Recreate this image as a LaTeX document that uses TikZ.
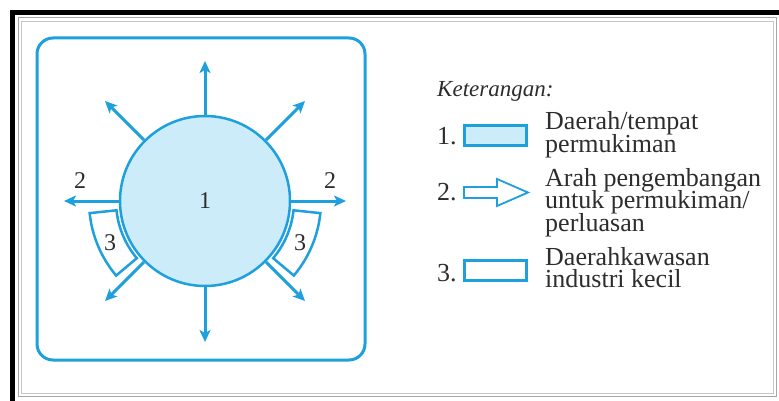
\documentclass[tikz,border=0pt]{standalone}
\usepackage{fontspec}
\setmainfont{Liberation Serif}
\usetikzlibrary{arrows.meta}
\definecolor{sky}{RGB}{30,160,220}
\definecolor{skyfill}{RGB}{205,236,250}
\definecolor{ink}{RGB}{45,45,45}
\newcommand\legtext[1]{\vtop{\baselineskip=22.5pt\lineskiplimit=-60pt\lineskip=0pt #1}}
\begin{document}
\begin{tikzpicture}[x=1pt,y=-1pt,
  arr/.style={draw=sky,line width=3pt,-{Stealth[length=12pt,width=11pt,inset=3pt]}},
  lbl/.style={text=ink,font=\fontsize{24}{24}\selectfont,inner sep=0pt},
  leg/.style={text=ink,font=\fontsize{26}{26}\selectfont,inner sep=0pt,anchor=base west},
  sector/.style={draw=sky,line width=2.5pt,fill=white},
  keybox/.style={draw=sky,line width=3pt,minimum width=62pt,minimum height=20pt,inner sep=0pt},
]
\useasboundingbox (0,0) rectangle (779,401);
\clip (0,0) rectangle (779,401);
\fill[white] (0,0) rectangle (779,401);
% frames
\draw[black,line width=5pt] (12.5,12.5) rectangle (800,420);
\draw[gray!70,line width=1pt] (18,18) rectangle (776,396);
\draw[gray!45,line width=0.8pt] (21,21) rectangle (773,393);
\draw[sky,line width=3pt,rounded corners=16pt] (37,38) rectangle (365,360);

% central settlement
\node[circle,draw=sky,line width=2.5pt,fill=skyfill,minimum size=170pt,lbl] (c) at (205,201) {1};

% arrow end points
\coordinate (eN) at (205,61);
\coordinate (eS) at (205,342);
\coordinate (eW) at (64,201);
\coordinate (eE) at (346,201);
\coordinate (eNE) at (305,101);
\coordinate (eNW) at (105,101);
\coordinate (eSW) at (105,301);
\coordinate (eSE) at (305,301);
\draw[arr] (c.north) -- (eN);
\draw[arr] (c.south) -- (eS);
\draw[arr] (c.west) -- (eW);
\draw[arr] (c.east) -- (eE);
\draw[arr] (c.45) -- (eNE);
\draw[arr] (c.135) -- (eNW);
\draw[arr] (c.225) -- (eSW);
\draw[arr] (c.315) -- (eSE);
\node[lbl] (l2w) at (80,181) {2};
\node[lbl] (l2e) at (330,181) {2};

% industrial areas
\begin{scope}[shift={(205,201)},yscale=-1]
  \draw[sector] (186:89) -- (186:116) arc[start angle=186,end angle=220,radius=116]
     -- (220:89) arc[start angle=220,end angle=186,radius=89] -- cycle;
  \draw[sector] (354:89) -- (354:116) arc[start angle=354,end angle=320,radius=116]
     -- (320:89) arc[start angle=320,end angle=354,radius=89] -- cycle;
\end{scope}
\node[lbl] (l3w) at (110,243) {3};
\node[lbl] (l3e) at (300,243) {3};

% legend
\node[text=ink,font=\itshape\fontsize{23}{23}\selectfont,anchor=base west,inner sep=0pt] (ket) at (437,97) {Keterangan:};
\node[leg] (n1) at (437,145) {1.};
\node[keybox,fill=skyfill] (r1) at (495.5,135.5) {};
\node[leg] (t1) at (545,130) {\legtext{\hbox{Daerah/tempat}\hbox{permukiman}}};
\node[leg] (n2) at (437,200) {2.};
\draw[sky,line width=1.8pt,fill=white] (464,187) -- (497,187) -- (497,179) -- (528,192.5)
   -- (497,206) -- (497,198) -- (464,198) -- cycle;
\node[leg] (t2) at (545,186) {\legtext{\hbox{Arah pengembangan}\hbox{untuk permukiman/}\hbox{perluasan}}};
\node[leg] (n3) at (437,281) {3.};
\node[keybox,fill=white] (r3) at (495.5,270) {};
\node[leg] (t3) at (545,265) {\legtext{\hbox{Daerahkawasan}\hbox{industri kecil}}};
\end{tikzpicture}
\end{document}
